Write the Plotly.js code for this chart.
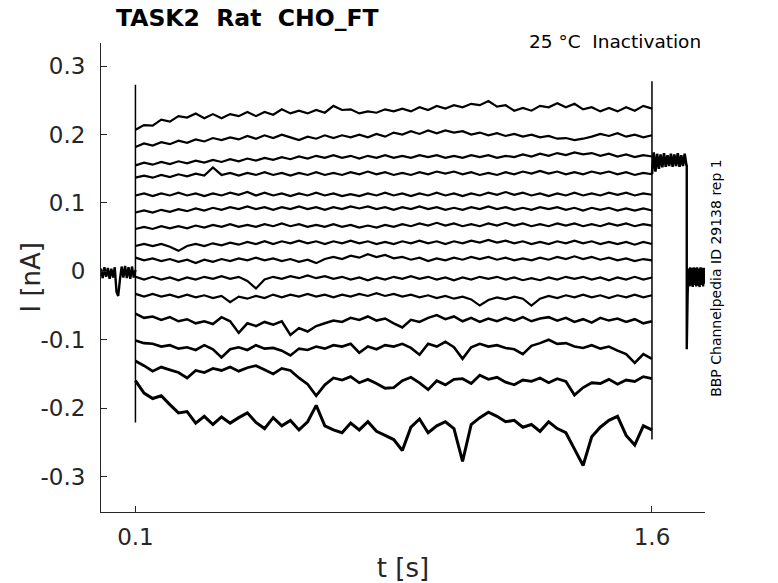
<!DOCTYPE html>
<html>
<head>
<meta charset="utf-8">
<script src="https://cdn.plot.ly/plotly-3.0.1.min.js"></script>
<style>
  html, body { margin: 0; padding: 0; background: #fff; }
  #chart { width: 778px; height: 583px; }
</style>
</head>
<body>
<div id="chart"></div>
<script>
// Holding segment before the step (t in s, I in nA)
const preT = [0, 0.005, 0.01, 0.015, 0.02, 0.025, 0.03, 0.035, 0.04, 0.045, 0.05, 0.055, 0.06, 0.065, 0.07, 0.075, 0.08, 0.085, 0.09, 0.095, 0.1];
const preI = [0.004, -0.010, 0.006, -0.008, 0.005, -0.011, 0.004, -0.009, 0.006, -0.030, -0.036, -0.012, 0.007, -0.009, 0.008, -0.010, 0.006, -0.011, 0.007, -0.009, 0.002];

// Conditioning step, sampled every 25 ms
const stepT = [0.1, 0.125, 0.15, 0.175, 0.2, 0.225, 0.25, 0.275, 0.3, 0.325, 0.35, 0.375, 0.4, 0.425, 0.45, 0.475, 0.5, 0.525, 0.55, 0.575,
  0.6, 0.625, 0.65, 0.675, 0.7, 0.725, 0.75, 0.775, 0.8, 0.825, 0.85, 0.875, 0.9, 0.925, 0.95, 0.975, 1.0, 1.025, 1.05, 1.075,
  1.1, 1.125, 1.15, 1.175, 1.2, 1.225, 1.25, 1.275, 1.3, 1.325, 1.35, 1.375, 1.4, 1.425, 1.45, 1.475, 1.5, 1.525, 1.55, 1.575, 1.6];

const sweep01 = [0.207, 0.214, 0.213, 0.222, 0.219, 0.227, 0.225, 0.231, 0.224, 0.230, 0.224, 0.230, 0.227, 0.233, 0.227, 0.233, 0.229, 0.237, 0.231, 0.235,
  0.231, 0.236, 0.232, 0.242, 0.236, 0.237, 0.231, 0.234, 0.232, 0.237, 0.234, 0.238, 0.234, 0.240, 0.236, 0.242, 0.238, 0.243, 0.240, 0.245,
  0.243, 0.249, 0.241, 0.243, 0.235, 0.239, 0.235, 0.242, 0.240, 0.246, 0.240, 0.245, 0.237, 0.240, 0.234, 0.239, 0.234, 0.240, 0.235, 0.242, 0.238];
const sweep02 = [0.182, 0.187, 0.184, 0.189, 0.186, 0.191, 0.188, 0.193, 0.190, 0.195, 0.192, 0.196, 0.193, 0.198, 0.194, 0.199, 0.195, 0.200, 0.196, 0.192,
  0.197, 0.194, 0.199, 0.195, 0.199, 0.196, 0.200, 0.196, 0.201, 0.197, 0.203, 0.200, 0.205, 0.201, 0.206, 0.202, 0.206, 0.203, 0.205, 0.200,
  0.203, 0.199, 0.202, 0.198, 0.201, 0.197, 0.200, 0.196, 0.198, 0.194, 0.195, 0.192, 0.194, 0.197, 0.201, 0.198, 0.202, 0.197, 0.200, 0.196, 0.199];
const sweep03 = [0.155, 0.159, 0.156, 0.160, 0.157, 0.161, 0.158, 0.162, 0.159, 0.163, 0.160, 0.164, 0.161, 0.165, 0.162, 0.166, 0.163, 0.167, 0.164, 0.168,
  0.165, 0.169, 0.166, 0.170, 0.166, 0.169, 0.165, 0.169, 0.166, 0.170, 0.166, 0.169, 0.166, 0.170, 0.167, 0.170, 0.166, 0.169, 0.166, 0.170,
  0.167, 0.170, 0.166, 0.169, 0.167, 0.171, 0.168, 0.172, 0.169, 0.173, 0.170, 0.174, 0.171, 0.173, 0.169, 0.172, 0.168, 0.171, 0.167, 0.170, 0.168];
const sweep04 = [0.137, 0.140, 0.137, 0.141, 0.138, 0.142, 0.139, 0.143, 0.140, 0.152, 0.141, 0.144, 0.140, 0.144, 0.141, 0.145, 0.141, 0.144, 0.140, 0.144,
  0.141, 0.145, 0.141, 0.144, 0.141, 0.145, 0.142, 0.146, 0.142, 0.145, 0.141, 0.144, 0.141, 0.145, 0.142, 0.146, 0.143, 0.146, 0.142, 0.145,
  0.141, 0.144, 0.141, 0.145, 0.142, 0.146, 0.143, 0.147, 0.143, 0.146, 0.142, 0.145, 0.142, 0.146, 0.143, 0.146, 0.142, 0.145, 0.141, 0.144, 0.142];
const sweep05 = [0.111, 0.114, 0.110, 0.114, 0.111, 0.115, 0.111, 0.114, 0.110, 0.114, 0.111, 0.115, 0.112, 0.116, 0.111, 0.115, 0.111, 0.114, 0.110, 0.114,
  0.111, 0.115, 0.111, 0.114, 0.110, 0.113, 0.110, 0.114, 0.111, 0.115, 0.111, 0.114, 0.110, 0.114, 0.111, 0.115, 0.111, 0.114, 0.110, 0.114,
  0.111, 0.115, 0.112, 0.116, 0.112, 0.115, 0.111, 0.114, 0.110, 0.114, 0.111, 0.115, 0.111, 0.114, 0.111, 0.115, 0.112, 0.115, 0.111, 0.114, 0.112];
const sweep06 = [0.086, 0.089, 0.086, 0.090, 0.087, 0.091, 0.088, 0.092, 0.089, 0.093, 0.090, 0.094, 0.091, 0.095, 0.091, 0.094, 0.090, 0.094, 0.091, 0.095,
  0.091, 0.094, 0.090, 0.094, 0.091, 0.095, 0.092, 0.095, 0.091, 0.094, 0.090, 0.094, 0.091, 0.095, 0.091, 0.094, 0.090, 0.093, 0.090, 0.094,
  0.091, 0.095, 0.091, 0.094, 0.090, 0.093, 0.090, 0.094, 0.091, 0.094, 0.090, 0.093, 0.089, 0.093, 0.090, 0.093, 0.089, 0.092, 0.089, 0.092, 0.089];
const sweep07 = [0.062, 0.065, 0.062, 0.066, 0.063, 0.066, 0.063, 0.067, 0.064, 0.068, 0.065, 0.069, 0.065, 0.068, 0.065, 0.069, 0.066, 0.070, 0.066, 0.069,
  0.065, 0.068, 0.065, 0.069, 0.065, 0.068, 0.064, 0.067, 0.064, 0.068, 0.065, 0.069, 0.066, 0.070, 0.067, 0.071, 0.067, 0.070, 0.066, 0.069,
  0.066, 0.070, 0.067, 0.071, 0.067, 0.070, 0.066, 0.069, 0.066, 0.070, 0.067, 0.070, 0.066, 0.069, 0.066, 0.070, 0.067, 0.070, 0.066, 0.069, 0.067];
const sweep08 = [0.037, 0.040, 0.037, 0.040, 0.036, 0.030, 0.037, 0.040, 0.037, 0.041, 0.038, 0.042, 0.039, 0.043, 0.040, 0.044, 0.040, 0.044, 0.041, 0.045,
  0.041, 0.044, 0.040, 0.044, 0.041, 0.045, 0.041, 0.044, 0.040, 0.043, 0.040, 0.044, 0.041, 0.045, 0.041, 0.044, 0.040, 0.044, 0.041, 0.045,
  0.042, 0.046, 0.042, 0.045, 0.041, 0.044, 0.040, 0.043, 0.040, 0.044, 0.041, 0.045, 0.041, 0.044, 0.040, 0.043, 0.040, 0.043, 0.039, 0.043, 0.040];
const sweep09 = [0.020, 0.016, 0.019, 0.015, 0.018, 0.014, 0.017, 0.012, 0.017, 0.014, 0.018, 0.015, 0.019, 0.016, 0.020, 0.016, 0.019, 0.015, 0.018, 0.014,
  0.017, 0.012, 0.018, 0.021, 0.018, 0.023, 0.020, 0.025, 0.021, 0.024, 0.019, 0.021, 0.017, 0.020, 0.015, 0.019, 0.016, 0.020, 0.017, 0.021,
  0.018, 0.021, 0.017, 0.020, 0.016, 0.019, 0.016, 0.020, 0.017, 0.021, 0.018, 0.022, 0.018, 0.021, 0.017, 0.020, 0.016, 0.019, 0.015, 0.018, 0.016];
const sweep10 = [-0.008, -0.012, -0.008, -0.012, -0.009, -0.013, -0.009, -0.012, -0.008, -0.011, -0.007, -0.011, -0.008, -0.014, -0.025, -0.012, -0.008, -0.011, -0.007, -0.010,
  -0.006, -0.010, -0.007, -0.011, -0.008, -0.012, -0.009, -0.013, -0.009, -0.012, -0.008, -0.011, -0.007, -0.011, -0.008, -0.012, -0.009, -0.013, -0.009, -0.012,
  -0.008, -0.011, -0.008, -0.012, -0.009, -0.013, -0.010, -0.013, -0.009, -0.012, -0.008, -0.011, -0.008, -0.012, -0.009, -0.013, -0.009, -0.012, -0.008, -0.012, -0.009];
const sweep11 = [-0.033, -0.037, -0.033, -0.037, -0.034, -0.038, -0.034, -0.038, -0.035, -0.039, -0.036, -0.045, -0.037, -0.040, -0.036, -0.039, -0.034, -0.038, -0.034, -0.037,
  -0.033, -0.037, -0.034, -0.038, -0.034, -0.037, -0.033, -0.036, -0.032, -0.036, -0.033, -0.037, -0.034, -0.038, -0.035, -0.039, -0.036, -0.040, -0.037, -0.041,
  -0.050, -0.042, -0.038, -0.041, -0.037, -0.040, -0.050, -0.040, -0.036, -0.039, -0.035, -0.038, -0.034, -0.038, -0.035, -0.039, -0.035, -0.038, -0.034, -0.038, -0.035];
const sweep12 = [-0.062, -0.068, -0.066, -0.071, -0.067, -0.073, -0.070, -0.076, -0.073, -0.077, -0.067, -0.073, -0.090, -0.076, -0.080, -0.074, -0.078, -0.073, -0.093, -0.083,
  -0.088, -0.080, -0.076, -0.072, -0.074, -0.068, -0.071, -0.066, -0.072, -0.069, -0.076, -0.082, -0.071, -0.074, -0.068, -0.064, -0.070, -0.066, -0.073, -0.068,
  -0.074, -0.069, -0.073, -0.068, -0.072, -0.067, -0.073, -0.069, -0.067, -0.072, -0.068, -0.074, -0.070, -0.075, -0.068, -0.072, -0.069, -0.074, -0.070, -0.076, -0.073];
const sweep13 = [-0.101, -0.105, -0.106, -0.110, -0.108, -0.113, -0.111, -0.115, -0.108, -0.114, -0.126, -0.114, -0.111, -0.115, -0.108, -0.113, -0.112, -0.116, -0.123, -0.113,
  -0.115, -0.110, -0.113, -0.108, -0.110, -0.106, -0.119, -0.110, -0.114, -0.108, -0.110, -0.106, -0.112, -0.122, -0.106, -0.110, -0.103, -0.111, -0.128, -0.111,
  -0.106, -0.110, -0.108, -0.112, -0.114, -0.121, -0.109, -0.105, -0.100, -0.106, -0.105, -0.110, -0.112, -0.108, -0.113, -0.110, -0.116, -0.121, -0.134, -0.121, -0.128];
const sweep14 = [-0.131, -0.138, -0.146, -0.140, -0.144, -0.148, -0.156, -0.145, -0.148, -0.142, -0.145, -0.140, -0.146, -0.141, -0.138, -0.144, -0.150, -0.142, -0.145, -0.156,
  -0.165, -0.182, -0.166, -0.156, -0.159, -0.154, -0.163, -0.158, -0.164, -0.171, -0.170, -0.160, -0.155, -0.163, -0.173, -0.160, -0.166, -0.158, -0.157, -0.164,
  -0.152, -0.158, -0.155, -0.162, -0.166, -0.159, -0.161, -0.156, -0.163, -0.157, -0.161, -0.181, -0.170, -0.163, -0.164, -0.158, -0.165, -0.159, -0.161, -0.154, -0.157];
const sweep15 = [-0.160, -0.178, -0.186, -0.182, -0.195, -0.207, -0.205, -0.222, -0.212, -0.224, -0.213, -0.222, -0.214, -0.207, -0.221, -0.230, -0.214, -0.226, -0.218, -0.232,
  -0.220, -0.196, -0.226, -0.232, -0.236, -0.222, -0.232, -0.220, -0.234, -0.240, -0.246, -0.262, -0.228, -0.216, -0.236, -0.226, -0.220, -0.230, -0.278, -0.224,
  -0.214, -0.206, -0.212, -0.220, -0.218, -0.228, -0.224, -0.234, -0.220, -0.230, -0.236, -0.260, -0.284, -0.242, -0.228, -0.218, -0.212, -0.240, -0.254, -0.226, -0.232];

// Test pulse after the step and return to holding
const testT = [1.6, 1.605, 1.61, 1.615, 1.62, 1.625, 1.63, 1.635, 1.64, 1.645, 1.65, 1.655, 1.66, 1.665, 1.67, 1.675, 1.68, 1.685, 1.69, 1.695, 1.7];
const testI = [0.142, 0.174, 0.146, 0.172, 0.150, 0.171, 0.152, 0.173, 0.153, 0.170, 0.154, 0.172, 0.153, 0.171, 0.154, 0.173, 0.153, 0.170, 0.154, 0.172, 0.155];
const postT = [1.701, 1.701, 1.7035, 1.706, 1.7085, 1.711, 1.7135, 1.716, 1.7185, 1.721, 1.7235, 1.726, 1.7285, 1.731, 1.7335, 1.736, 1.7385, 1.741, 1.7435, 1.746, 1.7485, 1.751, 1.7535];
const postI = [0.156, -0.114, -0.035, 0.004, -0.022, 0.006, -0.021, 0.005, -0.023, 0.006, -0.020, 0.005, -0.022, 0.006, -0.021, 0.004, -0.023, 0.006, -0.020, 0.005, -0.022, 0.005, -0.018];

// Capacitive transients at the step edges
const onsetT = [0.1, 0.1];
const onsetI = [0.273, -0.221];
const offsetT = [1.6, 1.6];
const offsetI = [0.278, -0.246];

const yTicks = [-0.3, -0.2, -0.1, 0, 0.1, 0.2, 0.3];
const yTickText = ['-0.3', '-0.2', '-0.1', '0', '0.1', '0.2', '0.3'];
const xTicks = [0.1, 1.6];
const xTickText = ['0.1', '1.6'];

const sweeps = [sweep01, sweep02, sweep03, sweep04, sweep05, sweep06, sweep07, sweep08,
  sweep09, sweep10, sweep11, sweep12, sweep13, sweep14, sweep15];
// noisier sweeps look like wider bands
const sweepWidths = [2.2, 2.2, 2.2, 2.2, 2.2, 2.2, 2.2, 2.2, 2.2, 2.2, 2.2, 2.5, 2.6, 2.8, 3.0];

function lineTrace(x, y, width) {
    return {
        x: x,
        y: y,
        type: 'scatter',
        mode: 'lines',
        line: { color: '#000000', width: width, simplify: false },
        hoverinfo: 'skip',
        showlegend: false
    };
}

const data = [lineTrace(preT, preI, 2.4)];
sweeps.forEach(function(s, i) {
    data.push(lineTrace(stepT, s, sweepWidths[i]));
});
data.push(lineTrace(testT, testI, 2.6));
data.push(lineTrace(postT, postI, 2.4));
data.push(lineTrace(onsetT, onsetI, 1.5));
data.push(lineTrace(offsetT, offsetI, 1.5));

const textColor = '#262626';
const fontFamily = 'DejaVu Sans, sans-serif';

const layout = {
    width: 778,
    height: 583,
    margin: { l: 101, r: 73, t: 43, b: 71, pad: 0 },
    paper_bgcolor: '#ffffff',
    plot_bgcolor: '#ffffff',
    showlegend: false,
    xaxis: {
        range: [0, 1.754],
        tickvals: xTicks,
        ticktext: xTickText,
        ticks: 'inside',
        ticklen: 6,
        tickcolor: textColor,
        ticklabelstandoff: 4,
        showline: true,
        linecolor: textColor,
        linewidth: 1,
        showgrid: false,
        zeroline: false,
        tickfont: { family: fontFamily, size: 23, color: textColor },
        title: { text: 't [s]', font: { family: fontFamily, size: 26, color: textColor }, standoff: 10 }
    },
    yaxis: {
        range: [-0.352, 0.334],
        tickvals: yTicks,
        ticktext: yTickText,
        ticks: 'inside',
        ticklen: 6,
        tickcolor: textColor,
        ticklabelstandoff: 10,
        showline: true,
        linecolor: textColor,
        linewidth: 1,
        showgrid: false,
        zeroline: false,
        tickfont: { family: fontFamily, size: 23, color: textColor }
    },
    annotations: [
        {
            text: 'I [nA]',
            xref: 'paper', yref: 'paper',
            x: -0.1175, y: 0.5,
            xanchor: 'center', yanchor: 'middle',
            textangle: -90,
            showarrow: false,
            font: { family: fontFamily, size: 26, color: textColor }
        },
        {
            text: '<b>TASK2\u00a0\u00a0Rat\u00a0\u00a0CHO_FT</b>',
            xref: 'paper', yref: 'paper',
            x: 0.022, y: 1.053,
            xanchor: 'left', yanchor: 'middle',
            showarrow: false,
            font: { family: fontFamily, size: 23.5, color: '#000000' }
        },
        {
            text: '25 °C\u00a0\u00a0Inactivation',
            xref: 'paper', yref: 'paper',
            x: 0.997, y: 1.004,
            xanchor: 'right', yanchor: 'middle',
            showarrow: false,
            font: { family: fontFamily, size: 18.5, color: '#000000' }
        },
        {
            text: 'BBP Channelpedia ID 29138 rep 1',
            xref: 'paper', yref: 'paper',
            x: 1.018, y: 0.499,
            xanchor: 'center', yanchor: 'middle',
            textangle: -90,
            showarrow: false,
            font: { family: fontFamily, size: 14, color: '#000000' }
        }
    ]
};

Plotly.newPlot('chart', data, layout, { staticPlot: true });
</script>
</body>
</html>
